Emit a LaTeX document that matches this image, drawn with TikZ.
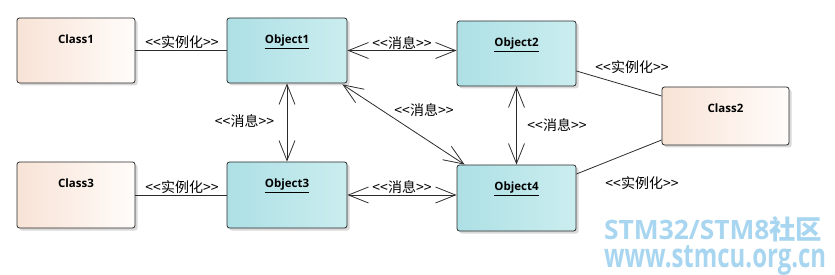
\documentclass[tikz,border=0pt]{standalone}
\usepackage{fontspec}
\setmainfont{Open Sans}
\newfontfamily\cjk{Noto Sans CJK SC}
\usetikzlibrary{arrows.meta,shadows,calc}
\definecolor{objL}{HTML}{ADE0E5}
\definecolor{objR}{HTML}{CBEDEF}
\definecolor{clsL}{HTML}{F8E3D6}
\definecolor{clsR}{HTML}{FFFCFA}
\definecolor{wmblue}{RGB}{168,214,240}
\definecolor{edgec}{HTML}{2B2B2B}
\begin{document}
\begin{tikzpicture}[x=1pt,y=-1pt,
  basebox/.style={draw=edgec,line width=0.8pt,rounded corners=2.5pt,inner sep=0pt,
    drop shadow={shadow xshift=2.5pt,shadow yshift=-2.5pt,opacity=0.25,fill=black!60}},
  objbox/.style={basebox,left color=objL,right color=objR},
  clsbox/.style={basebox,left color=clsL,right color=clsR},
  title/.style={font=\bfseries\fontsize{11.5}{13}\selectfont,anchor=base,inner sep=0pt},
  lbl/.style={font=\cjk\fontsize{14}{16}\selectfont,inner sep=0pt},
  conn/.style={draw=edgec,line width=0.8pt},
  msg/.style={conn,<->,>={Straight Barb[length=20pt,width=16pt]}},
  wm/.style={text=wmblue,font=\bfseries,anchor=base west,inner sep=0pt}]
\useasboundingbox (0,0) rectangle (835,275);

% boxes
\node[clsbox,minimum width=118pt,minimum height=65pt] (c1) at (76,50.5) {};
\node[objbox,minimum width=120pt,minimum height=65pt] (o1) at (287,50.5) {};
\node[objbox,minimum width=119pt,minimum height=65pt] (o2) at (516.5,53.5) {};
\node[clsbox,minimum width=127pt,minimum height=58pt] (c2) at (725.5,116) {};
\node[clsbox,minimum width=118pt,minimum height=66pt] (c3) at (76,195) {};
\node[objbox,minimum width=120pt,minimum height=66pt] (o3) at (287,195) {};
\node[objbox,minimum width=119pt,minimum height=66pt] (o4) at (516.5,198) {};

% titles
\node[title] (c1t) at ($(c1.north)+(0,26)$) {Class1};
\node[title] (o1t) at ($(o1.north)+(0,26)$) {\underline{Object1}};
\node[title] (o2t) at ($(o2.north)+(0,26)$) {\underline{Object2}};
\node[title] (c2t) at ($(c2.north)+(0,26)$) {Class2};
\node[title] (c3t) at ($(c3.north)+(0,26)$) {Class3};
\node[title] (o3t) at ($(o3.north)+(0,26)$) {\underline{Object3}};
\node[title] (o4t) at ($(o4.north)+(0,26)$) {\underline{Object4}};

% connectors
\draw[conn] (c1.east) -- (o1.west);
\draw[conn] (c3.east) -- (o3.west);
\draw[msg] (o1.east) -- (o1.east -| o2.west);
\draw[msg] (o3.east) -- (o3.east -| o4.west);
\draw[msg] (o1.south) -- (o3.north);
\draw[msg] (o2.south) -- (o4.north);
\draw[msg] ($(o1.south east)+(-5,1)$) -- ($(o4.north west)+(8,0)$);
\draw[conn] ($(o2.east)+(0,17.5)$) -- ($(c2.west)+(0,-20)$);
\draw[conn] ($(o4.east)+(0,-24)$) -- ($(c2.west)+(0,24)$);

% connector labels
\node[lbl] (l1) at (182,42) {<<实例化>>};
\node[lbl] (l2) at (402,43) {<<消息>>};
\node[lbl] (l3) at (244.5,121) {<<消息>>};
\node[lbl] (l4) at (424,110) {<<消息>>};
\node[lbl] (l5) at (557,125) {<<消息>>};
\node[lbl] (l6) at (632,67) {<<实例化>>};
\node[lbl] (l7) at (642,183) {<<实例化>>};
\node[lbl] (l8) at (182,187) {<<实例化>>};
\node[lbl] (l9) at (402,187) {<<消息>>};

% watermark
\node[wm,text depth=0pt] (wm1) at (604,240) {\resizebox{218pt}{23pt}{STM32/STM8{\cjk\bfseries 社区}}};
\node[wm,text height=19pt] (wm2) at (604,267) {\resizebox{222pt}{22pt}{www.stmcu.org.cn}};
\end{tikzpicture}
\end{document}
